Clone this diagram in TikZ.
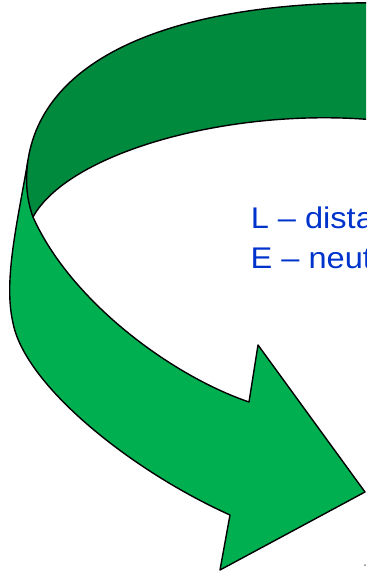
\documentclass[tikz,border=0pt]{standalone}
\usepackage{fontspec}
\setmainfont{Liberation Sans}
\definecolor{lightgreen}{HTML}{00B050}
\definecolor{darkgreen}{HTML}{008A3E}
\definecolor{txtblue}{HTML}{0033CC}
\begin{document}
\begin{tikzpicture}[x=1bp,y=-1bp,
  edge/.style={draw=black,line width=1.4bp,line join=round},
  lbl/.style={inner sep=0pt,anchor=base west,text=txtblue,font=\fontsize{30}{36}\selectfont}]
\useasboundingbox (0,0) rectangle (366,573);
\clip (0,0) rectangle (366,573);
% lower (light) part of the arrow with its head
\path[edge,fill=lightgreen]
  (28,160) .. controls (18,220) and (3,280) .. (13,323)
  .. controls (25,385) and (130,470) .. (230,515)
  -- (220,570) -- (365,492) -- (258,345) -- (249,402)
  .. controls (170,375) and (70,300) .. (33,217)
  -- cycle;
% upper (dark) band
\path[edge,fill=darkgreen]
  (28,160) .. controls (45,50) and (190,0) .. (385,3)
  -- (385,121)
  .. controls (240,105) and (70,150) .. (33,217)
  .. controls (25,195) and (26,175) .. (28,160) -- cycle;
\node[lbl] (l1) at (250.6,228) {\scalebox{1.09}[1]{L – dista}};
\node[lbl] (l2) at (250.4,268) {\scalebox{1.09}[1]{E – neut}};
\fill[gray] (365,565) circle (1);
\end{tikzpicture}
\end{document}
